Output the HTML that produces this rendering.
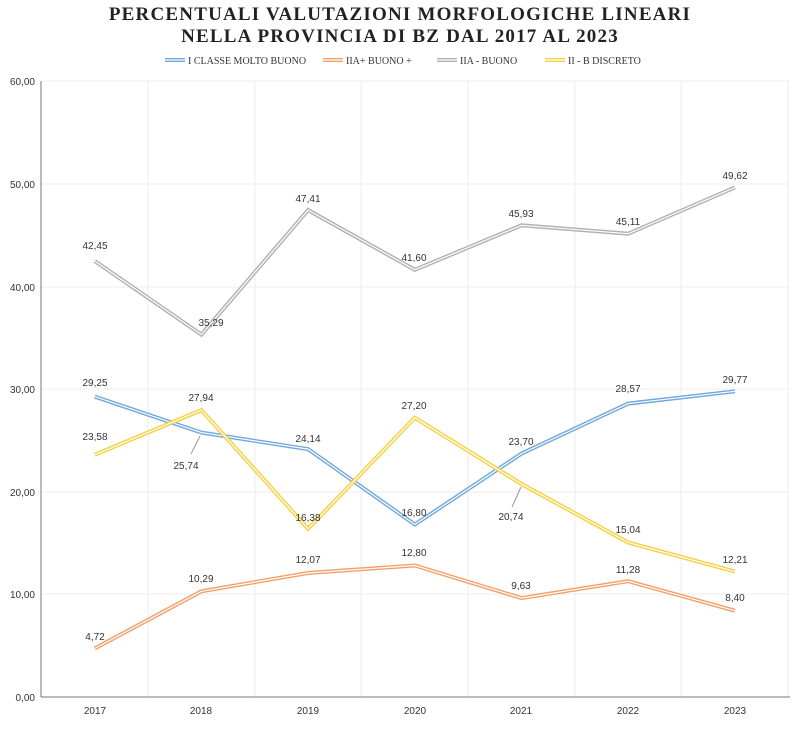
<!DOCTYPE html>
<html><head><meta charset="utf-8"><style>
body{margin:0;background:#fff}
svg{display:block}
.t{font-family:"Liberation Serif",serif;font-weight:bold;font-size:19px;letter-spacing:1.2px;fill:#222}
.lg{font-family:"Liberation Serif",serif;font-size:10px;fill:#333}
.ax{font-family:"Liberation Sans",sans-serif;font-size:10px;fill:#333}
.dl{font-family:"Liberation Sans",sans-serif;font-size:10px;fill:#333;text-anchor:middle}
</style></head><body>
<svg width="800" height="737" viewBox="0 0 800 737" xmlns="http://www.w3.org/2000/svg">
<text class="t" x="400" y="20" text-anchor="middle">PERCENTUALI VALUTAZIONI MORFOLOGICHE LINEARI</text>
<text class="t" x="400" y="42" text-anchor="middle">NELLA PROVINCIA DI BZ DAL 2017 AL 2023</text>
<g>
<line x1="165" y1="60" x2="185" y2="60" stroke="#6fa8dc" stroke-width="4"/><line x1="165" y1="60" x2="185" y2="60" stroke="#fff" stroke-width="1.2"/>
<text class="lg" x="188" y="64">I CLASSE MOLTO BUONO</text>
<line x1="323" y1="60" x2="343" y2="60" stroke="#f0a06a" stroke-width="4"/><line x1="323" y1="60" x2="343" y2="60" stroke="#fff" stroke-width="1.2"/>
<text class="lg" x="346" y="64">IIA+ BUONO +</text>
<line x1="437" y1="60" x2="457" y2="60" stroke="#b0b0b0" stroke-width="4"/><line x1="437" y1="60" x2="457" y2="60" stroke="#fff" stroke-width="1.2"/>
<text class="lg" x="460" y="64">IIA - BUONO</text>
<line x1="545" y1="60" x2="565" y2="60" stroke="#f5d040" stroke-width="4"/><line x1="545" y1="60" x2="565" y2="60" stroke="#fff" stroke-width="1.2"/>
<text class="lg" x="568" y="64">II - B DISCRETO</text>
</g>
<g stroke="#eeeeee" stroke-width="1">
<line x1="41" y1="81" x2="790" y2="81"/><line x1="41" y1="184" x2="790" y2="184"/><line x1="41" y1="287" x2="790" y2="287"/><line x1="41" y1="389" x2="790" y2="389"/><line x1="41" y1="492" x2="790" y2="492"/><line x1="41" y1="594" x2="790" y2="594"/>
<line x1="148" y1="81" x2="148" y2="697"/><line x1="255" y1="81" x2="255" y2="697"/><line x1="361" y1="81" x2="361" y2="697"/><line x1="468" y1="81" x2="468" y2="697"/><line x1="575" y1="81" x2="575" y2="697"/><line x1="681" y1="81" x2="681" y2="697"/><line x1="788" y1="81" x2="788" y2="697"/>
</g>
<line x1="41" y1="81" x2="41" y2="697" stroke="#777" stroke-width="1"/>
<line x1="41" y1="697" x2="790" y2="697" stroke="#777" stroke-width="1"/>
<g class="ax" text-anchor="end">
<text x="35" y="85">60,00</text><text x="35" y="188">50,00</text><text x="35" y="291">40,00</text><text x="35" y="393">30,00</text><text x="35" y="496">20,00</text><text x="35" y="598">10,00</text><text x="35" y="701">0,00</text>
</g>
<g class="ax" text-anchor="middle">
<text x="95" y="714">2017</text><text x="201" y="714">2018</text><text x="308" y="714">2019</text><text x="415" y="714">2020</text><text x="521" y="714">2021</text><text x="628" y="714">2022</text><text x="735" y="714">2023</text>
</g>
<g fill="none" stroke-linejoin="miter">
<polyline points="94.7,261 201.4,334.6 308.1,210.1 414.8,269.8 521.5,225.3 628.2,233.7 734.9,187.4" stroke="#b0b0b0" stroke-width="4"/>
<polyline points="94.7,261 201.4,334.6 308.1,210.1 414.8,269.8 521.5,225.3 628.2,233.7 734.9,187.4" stroke="#fff" stroke-width="1.2"/>
<polyline points="94.7,648.5 201.4,591.3 308.1,573 414.8,565.5 521.5,598.1 628.2,581.2 734.9,610.7" stroke="#f0a06a" stroke-width="4"/>
<polyline points="94.7,648.5 201.4,591.3 308.1,573 414.8,565.5 521.5,598.1 628.2,581.2 734.9,610.7" stroke="#fff" stroke-width="1.2"/>
<polyline points="94.7,396.6 201.4,432.6 308.1,449.1 414.8,524.5 521.5,453.6 628.2,403.6 734.9,391.3" stroke="#6fa8dc" stroke-width="4"/>
<polyline points="94.7,396.6 201.4,432.6 308.1,449.1 414.8,524.5 521.5,453.6 628.2,403.6 734.9,391.3" stroke="#fff" stroke-width="1.2"/>
<polyline points="94.7,454.8 201.4,410.1 308.1,528.8 414.8,417.7 521.5,484 628.2,542.5 734.9,571.6" stroke="#f5d040" stroke-width="4"/>
<polyline points="94.7,454.8 201.4,410.1 308.1,528.8 414.8,417.7 521.5,484 628.2,542.5 734.9,571.6" stroke="#fff" stroke-width="1.2"/>
</g>
<line x1="200" y1="436" x2="191" y2="454" stroke="#999" stroke-width="1"/>
<line x1="521" y1="487" x2="512" y2="507" stroke="#999" stroke-width="1"/>
<g class="dl">
<text x="95" y="249">42,45</text><text x="211" y="326">35,29</text><text x="308" y="202">47,41</text><text x="414" y="261">41,60</text><text x="521" y="217">45,93</text><text x="628" y="225">45,11</text><text x="735" y="179">49,62</text>
<text x="95" y="386">29,25</text><text x="186" y="469">25,74</text><text x="308" y="442">24,14</text><text x="414" y="516">16,80</text><text x="521" y="445">23,70</text><text x="628" y="392">28,57</text><text x="735" y="383">29,77</text>
<text x="95" y="440">23,58</text><text x="201" y="401">27,94</text><text x="308" y="521">16,38</text><text x="414" y="409">27,20</text><text x="511" y="520">20,74</text><text x="628" y="533">15,04</text><text x="735" y="563">12,21</text>
<text x="95" y="640">4,72</text><text x="201" y="582">10,29</text><text x="308" y="563">12,07</text><text x="414" y="556">12,80</text><text x="521" y="589">9,63</text><text x="628" y="573">11,28</text><text x="735" y="601">8,40</text>
</g>
</svg>
</body></html>
